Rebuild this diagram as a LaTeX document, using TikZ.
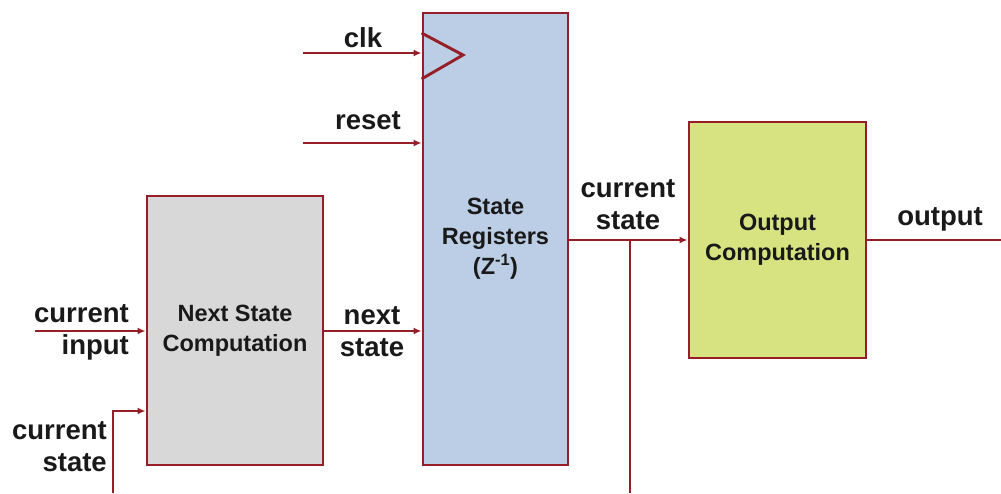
\documentclass[tikz,border=0pt]{standalone}
\usepackage{fontspec}
\setmainfont{Liberation Sans}
\usetikzlibrary{arrows.meta}
\definecolor{wire}{RGB}{150,30,40}
\definecolor{grayfill}{RGB}{216,216,216}
\definecolor{bluefill}{RGB}{187,206,229}
\definecolor{greenfill}{RGB}{214,227,128}
\tikzset{
  blk/.style={draw=wire, line width=2.9pt, inner sep=0pt, align=center,
    font=\fontsize{23.5}{30}\selectfont\bfseries, text=black!90},
  wireline/.style={draw=wire, line width=2.9pt},
  arr/.style={wireline, -{Latex[length=8pt,width=7pt]}},
  lbl/.style={inner sep=0pt, font=\fontsize{27.5}{32}\selectfont\bfseries, text=black!90},
}
\begin{document}
\begin{tikzpicture}[x=1pt,y=-1pt]
\useasboundingbox (0,0) rectangle (1001,493);
% blocks
\node[blk, fill=grayfill, minimum width=176pt, minimum height=269pt] (ns) at (235,330.5) {Next State\\Computation};
\node[blk, fill=bluefill, minimum width=145pt, minimum height=452pt] (sr) at (495.5,239) {State\\Registers\\(Z\textsuperscript{-1})};
\node[blk, fill=greenfill, minimum width=177pt, minimum height=236pt] (oc) at (777.5,240) {Output\\Computation};
% clock triangle
\draw[wireline, line join=miter] (sr.west |- 0,33) -- (463,55) -- (sr.west |- 0,79);
% free ends
\coordinate (clkin) at (303,53);
\coordinate (rstin) at (303,143);
\coordinate (ciin) at (35,331);
\coordinate (csin) at (113,493);
\coordinate (csbend) at (113,411);
\coordinate (br) at (630,240);
\coordinate (brend) at (630,493);
\coordinate (outend) at (1001,240);
% connectors
\draw[arr] (clkin) -- (sr.west |- clkin);
\draw[arr] (rstin) -- (sr.west |- rstin);
\draw[arr] (ciin) -- (ns.west |- ciin);
\draw[arr] (csin) -- (csbend) -- (ns.west |- csbend);
\draw[arr] (ns.east |- ciin) -- (sr.west |- ciin);
\draw[arr] (sr.east |- oc.west) -- (oc.west);
\draw[wireline] (br) -- (brend);
\draw[wireline] (oc.east) -- (outend);
% labels
\node[lbl] (lclk) at (363,38) {clk};
\node[lbl] (lrst) at (368,121) {reset};
\node[lbl, align=right, anchor=east] (lci) at (129,332) {current\\input};
\node[lbl, align=right, anchor=east] (lcs) at (107,447) {current\\state};
\node[lbl, align=center] (lnx) at (372,332) {next\\state};
\node[lbl, align=center] (lcs2) at (628,205) {current\\state};
\node[lbl] (lout) at (940,219) {output};
\end{tikzpicture}
\end{document}
